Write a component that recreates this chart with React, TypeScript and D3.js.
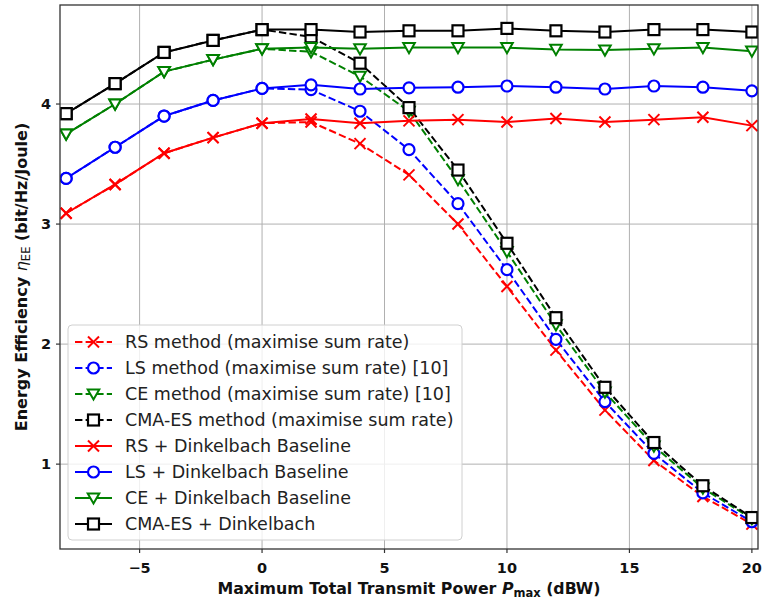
import React from 'react';
import * as d3 from 'd3';

// transmit power sweep (dBW)
const powers = [-8, -6, -4, -2, 0, 2, 4, 6, 8, 10, 12, 14, 16, 18, 20];

// maximise sum rate (dashed)
const rsSumRate = [3.09, 3.33, 3.59, 3.72, 3.84, 3.85, 3.67, 3.41, 3.0, 2.48, 1.95, 1.45, 1.03, 0.73, 0.5];
const lsSumRate = [3.38, 3.64, 3.9, 4.03, 4.13, 4.12, 3.94, 3.62, 3.17, 2.62, 2.04, 1.52, 1.09, 0.76, 0.52];
const ceSumRate = [3.75, 4.0, 4.27, 4.37, 4.46, 4.435, 4.23, 3.94, 3.37, 2.77, 2.16, 1.6, 1.15, 0.8, 0.545];
const cmaSumRate = [3.92, 4.17, 4.43, 4.53, 4.62, 4.56, 4.34, 3.97, 3.45, 2.84, 2.22, 1.64, 1.18, 0.82, 0.555];

// dinkelbach (solid)
const rsDinkel = [3.09, 3.33, 3.59, 3.72, 3.84, 3.875, 3.84, 3.86, 3.87, 3.85, 3.88, 3.85, 3.87, 3.89, 3.82];
const lsDinkel = [3.38, 3.64, 3.9, 4.03, 4.13, 4.16, 4.125, 4.135, 4.14, 4.15, 4.14, 4.125, 4.15, 4.14, 4.11];
const ceDinkel = [3.75, 4.0, 4.27, 4.37, 4.46, 4.47, 4.46, 4.47, 4.47, 4.47, 4.455, 4.45, 4.46, 4.47, 4.44];
const cmaDinkel = [3.92, 4.17, 4.43, 4.53, 4.62, 4.62, 4.6, 4.61, 4.61, 4.63, 4.61, 4.6, 4.62, 4.62, 4.6];

const xTicks = [-5, 0, 5, 10, 15, 20];
const yTicks = [1, 2, 3, 4];

type Series = { label: string; values: number[]; color: string; marker: string; dashed: boolean };

const series: Series[] = [
  { label: 'RS method (maximise sum rate)', values: rsSumRate, color: '#ff0000', marker: 'x', dashed: true },
  { label: 'LS method (maximise sum rate) [10]', values: lsSumRate, color: '#0000ff', marker: 'o', dashed: true },
  { label: 'CE method (maximise sum rate) [10]', values: ceSumRate, color: '#008000', marker: 'v', dashed: true },
  { label: 'CMA-ES method (maximise sum rate)', values: cmaSumRate, color: '#000000', marker: 's', dashed: true },
  { label: 'RS + Dinkelbach Baseline', values: rsDinkel, color: '#ff0000', marker: 'x', dashed: false },
  { label: 'LS + Dinkelbach Baseline', values: lsDinkel, color: '#0000ff', marker: 'o', dashed: false },
  { label: 'CE + Dinkelbach Baseline', values: ceDinkel, color: '#008000', marker: 'v', dashed: false },
  { label: 'CMA-ES + Dinkelbach', values: cmaDinkel, color: '#000000', marker: 's', dashed: false },
];

const W = 763;
const H = 606;
const M = { left: 60, right: 758, top: 5, bottom: 549 };
const FONT = 'DejaVu Sans, sans-serif';

const Marker = ({ type, x, y, color }: { type: string; x: number; y: number; color: string }) => {
  if (type === 'x') {
    const r = 5.5;
    return (
      <g stroke={color} strokeWidth={2}>
        <line x1={x - r} y1={y - r} x2={x + r} y2={y + r} />
        <line x1={x - r} y1={y + r} x2={x + r} y2={y - r} />
      </g>
    );
  }
  if (type === 'o') {
    return <circle cx={x} cy={y} r={5.5} fill="white" stroke={color} strokeWidth={2.2} />;
  }
  if (type === 'v') {
    const pts = [[x - 5.8, y - 4.6], [x + 5.8, y - 4.6], [x, y + 5.6]].map(p => p.join(',')).join(' ');
    return <polygon points={pts} fill="white" stroke={color} strokeWidth={2} strokeLinejoin="miter" />;
  }
  return <rect x={x - 5.5} y={y - 5.5} width={11} height={11} fill="white" stroke={color} strokeWidth={2.2} />;
};

export default function App() {
  const x = d3.scaleLinear().domain([-8.25, 20.25]).range([M.left, M.right]);
  const y = d3.scaleLinear().domain([0.293, 4.825]).range([M.bottom, M.top]);

  const line = d3.line<number>()
    .x((_, i) => x(powers[i]))
    .y(d => y(d));

  const legendX = 68;
  const legendY = 325;
  const rowH = 26;

  return (
    <svg width={W} height={H} style={{ position: 'absolute', left: 0, top: 0 }} fontFamily={FONT}>
      <rect width={W} height={H} fill="white" />
      <defs>
        <clipPath id="plot">
          <rect x={M.left} y={M.top} width={M.right - M.left} height={M.bottom - M.top} />
        </clipPath>
      </defs>

      {/* grid */}
      <g stroke="#b0b0b0" strokeWidth={1}>
        {xTicks.map(t => (
          <line key={'gx' + t} x1={x(t)} x2={x(t)} y1={M.top} y2={M.bottom} />
        ))}
        {yTicks.map(t => (
          <line key={'gy' + t} x1={M.left} x2={M.right} y1={y(t)} y2={y(t)} />
        ))}
      </g>

      {/* lines + markers */}
      <g clipPath="url(#plot)">
        {series.map(s => (
          <g key={s.label}>
            <path d={line(s.values) || ''} fill="none" stroke={s.color} strokeWidth={2}
              strokeDasharray={s.dashed ? '7.4,3.2' : undefined} />
            {s.values.map((v, i) => (
              <Marker key={i} type={s.marker} x={x(powers[i])} y={y(v)} color={s.color} />
            ))}
          </g>
        ))}
      </g>

      {/* frame */}
      <rect x={M.left} y={M.top} width={M.right - M.left} height={M.bottom - M.top}
        fill="none" stroke="#333" strokeWidth={1.3} />

      {/* ticks */}
      <g fontSize={14.5} fontWeight="bold" fill="#111">
        {xTicks.map(t => (
          <g key={'tx' + t}>
            <line x1={x(t)} x2={x(t)} y1={M.bottom} y2={M.bottom + 4} stroke="#333" strokeWidth={1.2} />
            <text x={x(t)} y={M.bottom + 24} textAnchor="middle">{t < 0 ? '\u2212' + Math.abs(t) : t}</text>
          </g>
        ))}
        {yTicks.map(t => (
          <g key={'ty' + t}>
            <line x1={M.left - 4} x2={M.left} y1={y(t)} y2={y(t)} stroke="#333" strokeWidth={1.2} />
            <text x={M.left - 9} y={y(t) + 5} textAnchor="end">{t}</text>
          </g>
        ))}
      </g>

      {/* axis labels */}
      <text x={(M.left + M.right) / 2} y={594} textAnchor="middle" fontSize={15.8} fontWeight="bold" fill="#111">
        Maximum Total Transmit Power <tspan fontStyle="italic">P</tspan>
        <tspan fontSize={11.5} dy={3}>max</tspan>
        <tspan dy={-3}> (dBW)</tspan>
      </text>
      <text transform={`translate(27,${(M.top + M.bottom) / 2}) rotate(-90)`} textAnchor="middle"
        fontSize={16} fontWeight="bold" fill="#111">
        Energy Efficiency <tspan fontStyle="italic" fontWeight="normal">η</tspan>
        <tspan fontSize={11.5} fontWeight="normal" dy={3}>EE</tspan>
        <tspan dy={-3}> (bit/Hz/Joule)</tspan>
      </text>

      {/* legend */}
      <rect x={legendX} y={legendY} width={394} height={215} rx={4} fill="white" fillOpacity={0.8}
        stroke="#d0d0d0" strokeWidth={1} />
      {series.map((s, i) => {
        const cy = legendY + 17 + i * rowH;
        return (
          <g key={'lg' + i}>
            <line x1={legendX + 7} x2={legendX + 44} y1={cy} y2={cy} stroke={s.color} strokeWidth={2}
              strokeDasharray={s.dashed ? '7.4,3.2' : undefined} />
            <Marker type={s.marker} x={legendX + 25.5} y={cy} color={s.color} />
            <text x={legendX + 57} y={cy + 6} fontSize={17.5} fill="#222">{s.label}</text>
          </g>
        );
      })}
    </svg>
  );
}
